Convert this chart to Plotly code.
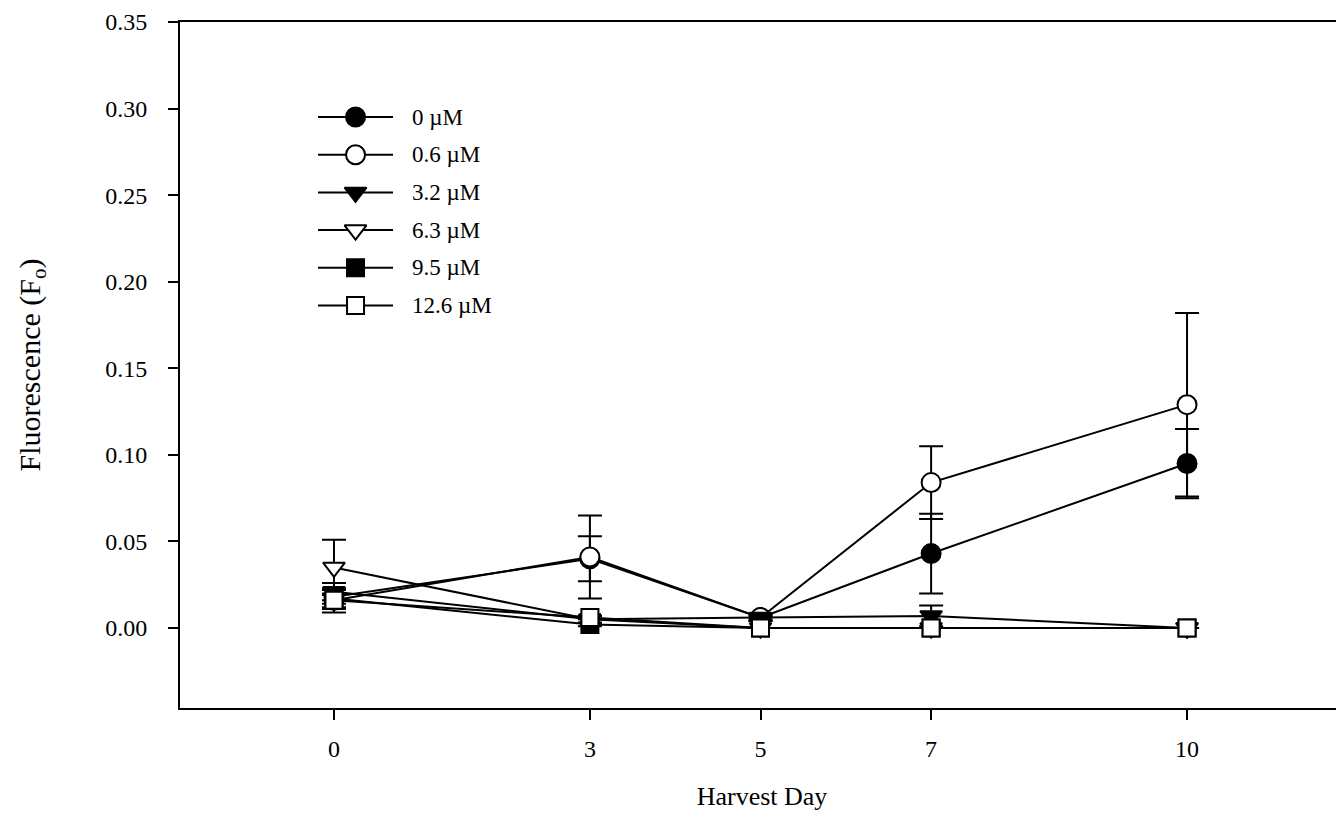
import plotly.graph_objects as go

days = [0, 3, 5, 7, 10]
tick_labels = ["0", "3", "5", "7", "10"]

series_names = ["0 µM", "0.6 µM", "3.2 µM", "6.3 µM", "9.5 µM", "12.6 µM"]

fo_0 = [0.018, 0.040, 0.006, 0.043, 0.095]
fo_06 = [0.016, 0.041, 0.006, 0.084, 0.129]
fo_32 = [0.021, 0.005, 0.006, 0.007, 0.000]
fo_63 = [0.035, 0.005, 0.000, 0.000, 0.000]
fo_95 = [0.017, 0.002, 0.000, 0.000, 0.000]
fo_126 = [0.016, 0.006, 0.000, 0.000, 0.000]

err_0 = [0.004, 0.013, 0.002, 0.023, 0.020]
err_06 = [0.004, 0.024, 0.002, 0.021, 0.053]
err_32 = [0.005, 0.002, 0.001, 0.006, 0.000]
err_63 = [0.016, 0.002, 0.000, 0.000, 0.000]
err_95 = [0.006, 0.001, 0.000, 0.000, 0.000]
err_126 = [0.007, 0.001, 0.000, 0.000, 0.000]

values = [fo_0, fo_06, fo_32, fo_63, fo_95, fo_126]
errors = [err_0, err_06, err_32, err_63, err_95, err_126]

styles = [
    dict(symbol="circle", fill="black", size=19),
    dict(symbol="circle", fill="white", size=19),
    dict(symbol="triangle-down", fill="black", size=19),
    dict(symbol="triangle-down", fill="white", size=19),
    dict(symbol="square", fill="black", size=17),
    dict(symbol="square", fill="white", size=17),
]

FONT = "Liberation Serif"

# legend geometry (fractions of the plot area)
LEG_X0, LEG_X1, LEG_TX = 0.1186, 0.183, 0.1976
LEG_Y0, LEG_DY = 0.8615, 0.05496

fig = go.Figure()
for name, y, e, st in zip(series_names, values, errors, styles):
    fig.add_trace(go.Scatter(
        x=days, y=y, name=name, mode="lines+markers", showlegend=False,
        line=dict(color="black", width=2),
        marker=dict(symbol=st["symbol"], size=st["size"], color=st["fill"],
                    line=dict(color="black", width=2)),
        error_y=dict(type="data", array=e, visible=True, color="black",
                     thickness=2, width=12),
    ))

# custom legend drawn on an overlay axis spanning the plot area
for i, (name, st) in enumerate(zip(series_names, styles)):
    ly = LEG_Y0 - i * LEG_DY
    fig.add_trace(go.Scatter(
        x=[LEG_X0, LEG_X1], y=[ly, ly],
        xaxis="x2", yaxis="y2", mode="lines", showlegend=False,
        hoverinfo="skip", line=dict(color="black", width=2),
    ))
    fig.add_trace(go.Scatter(
        x=[(LEG_X0 + LEG_X1) / 2], y=[ly],
        xaxis="x2", yaxis="y2", mode="markers", showlegend=False,
        hoverinfo="skip",
        marker=dict(symbol=st["symbol"], size=st["size"], color=st["fill"],
                    opacity=1, line=dict(color="black", width=2)),
    ))
    fig.add_annotation(
        x=LEG_TX, y=ly, xref="x2", yref="y2", text=name, showarrow=False,
        xanchor="left", yanchor="middle",
        font=dict(family=FONT, size=23, color="black"),
    )

fig.update_layout(
    width=1336, height=814,
    margin=dict(l=172, r=0, t=14, b=114),
    plot_bgcolor="white", paper_bgcolor="white",
    font=dict(family=FONT, size=22, color="black"),
    showlegend=False,
    xaxis=dict(
        range=[-1.805, 11.84], tickvals=days, ticktext=tick_labels,
        showline=True, linecolor="black", linewidth=2, mirror=True,
        ticks="outside", ticklen=10, tickwidth=2, tickcolor="black",
        showgrid=False, zeroline=False,
        tickfont=dict(family=FONT, size=24),
        ticklabelstandoff=8,
        title=dict(text="Harvest Day", font=dict(family=FONT, size=26), standoff=26),
    ),
    yaxis=dict(
        range=[-0.0462, 0.35], dtick=0.05, tick0=0, tickformat=".2f",
        showline=True, linecolor="black", linewidth=2, mirror=False,
        ticks="outside", ticklen=10, tickwidth=2, tickcolor="black",
        showgrid=False, zeroline=False,
        tickfont=dict(family=FONT, size=24),
        ticklabelstandoff=16,
        title=dict(text="Fluorescence (F<sub>o</sub>)", font=dict(family=FONT, size=30), standoff=56),
    ),
    xaxis2=dict(overlaying="x", range=[0, 1], visible=False, fixedrange=True),
    yaxis2=dict(overlaying="y", range=[0, 1], visible=False, fixedrange=True),
)

fig.write_html("out.html")
